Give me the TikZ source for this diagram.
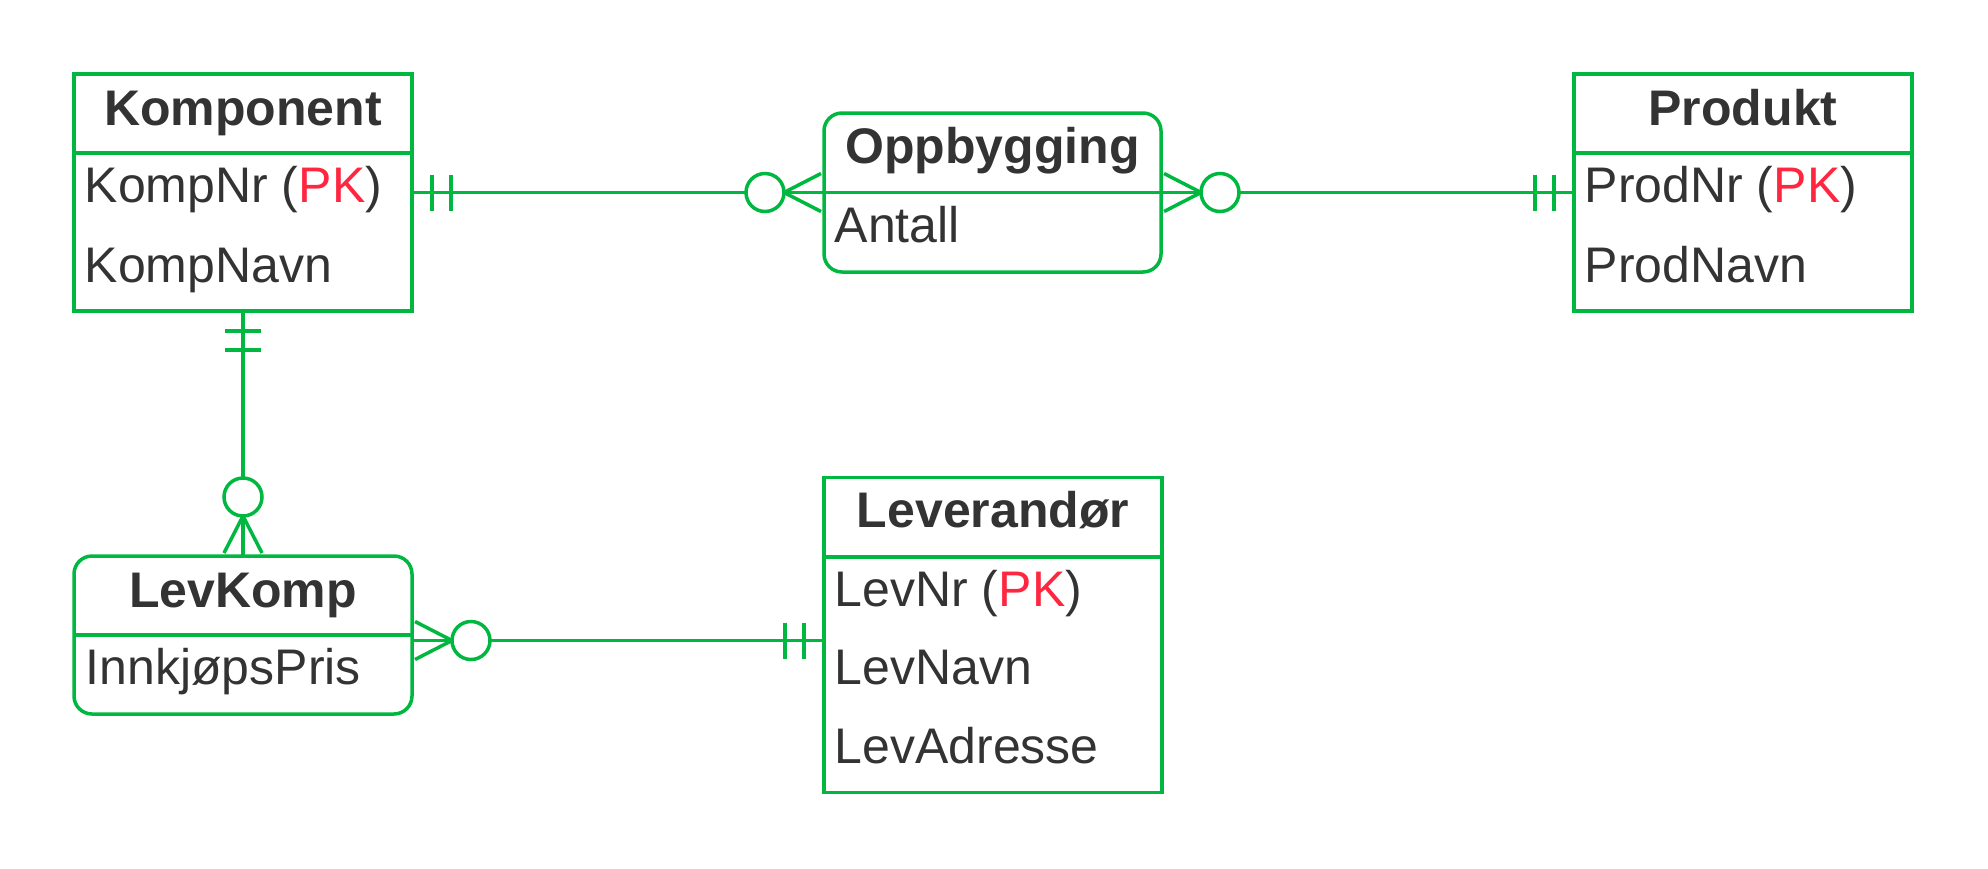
\documentclass[tikz,border=0pt]{standalone}
\usepackage{fontspec}
\setmainfont{Liberation Sans}
\definecolor{ergreen}{RGB}{0,184,64}
\definecolor{txt}{RGB}{51,51,51}
\definecolor{pkred}{RGB}{255,38,64}
\begin{document}
\begin{tikzpicture}[x=1pt,y=-1pt,line width=3.5pt,
  entity/.style={draw=ergreen,fill=white,rectangle,inner sep=0pt,outer sep=0pt},
  rentity/.style={entity,rounded corners=18pt},
  divider/.style={draw=ergreen,line width=3.5pt},
  etitle/.style={anchor=base,text=txt,font=\fontsize{50}{60}\selectfont\bfseries,inner sep=0pt},
  attr/.style={anchor=base west,text=txt,font=\fontsize{50}{60}\selectfont,inner sep=0pt},
  conn/.style={draw=ergreen,line width=3.5pt},
  zero/.style={circle,draw=ergreen,fill=white,minimum size=38pt,inner sep=0pt,outer sep=0pt,line width=3.5pt}]
\useasboundingbox (0,0) rectangle (1988,868);

% entities
\node[entity,minimum width=338pt,minimum height=237pt] (komp) at (243,192.5) {};
\node[rentity,minimum width=337pt,minimum height=159pt] (opp) at (992.5,192.5) {};
\node[entity,minimum width=338pt,minimum height=237pt] (prod) at (1743,192.5) {};
\node[rentity,minimum width=338pt,minimum height=158pt] (levk) at (243,635) {};
\node[entity,minimum width=338pt,minimum height=315pt] (lev) at (993,635) {};

% header dividers
\draw[divider] (74,153) -- (412,153);
\draw[divider] (1574,153) -- (1912,153);
\draw[divider] (824,192.5) -- (1161,192.5);
\draw[divider] (74,635) -- (412,635);
\draw[divider] (824,557) -- (1162,557);

% connector 1: Komponent -- Oppbygging
\draw[conn] (komp.east) -- (opp.west);
\foreach \d in {20,39} \draw[conn] ([xshift=\d pt]komp.east) ++(0,-18) -- ++(0,36);
\draw[conn] ([xshift=-3pt,yshift=19pt]opp.west) -- ([xshift=-40pt]opp.west) -- ([xshift=-3pt,yshift=-19pt]opp.west);
\node[zero] (z1) at ([xshift=-59pt]opp.west) {};

% connector 2: Oppbygging -- Produkt
\draw[conn] (opp.east) -- (prod.west);
\foreach \d in {20,39} \draw[conn] ([xshift=-\d pt]prod.west) ++(0,-18) -- ++(0,36);
\draw[conn] ([xshift=3pt,yshift=19pt]opp.east) -- ([xshift=40pt]opp.east) -- ([xshift=3pt,yshift=-19pt]opp.east);
\node[zero] (z2) at ([xshift=59pt]opp.east) {};

% connector 3: Komponent -- LevKomp
\draw[conn] (komp.south) -- (levk.north);
\foreach \d in {20,39} \draw[conn] ([yshift=-\d pt]komp.south) ++(-18,0) -- ++(36,0);
\draw[conn] ([xshift=-19pt,yshift=3pt]levk.north) -- ([yshift=40pt]levk.north) -- ([xshift=19pt,yshift=3pt]levk.north);
\node[zero] (z3) at ([yshift=59pt]levk.north) {};

% connector 4: LevKomp -- Leverandor
\coordinate (l4a) at ([yshift=-5.5pt]levk.east);
\coordinate (l4b) at (l4a -| lev.west);
\draw[conn] (l4a) -- (l4b);
\foreach \d in {20,39} \draw[conn] ([xshift=-\d pt]l4b) ++(0,-18) -- ++(0,36);
\draw[conn] ([xshift=3pt,yshift=19pt]l4a) -- ([xshift=40pt]l4a) -- ([xshift=3pt,yshift=-19pt]l4a);
\node[zero] (z4) at ([xshift=59pt]l4a) {};

% texts
\node[etitle] (kompT) at (243,125) {Komponent};
\node[attr] (kompA1) at (83,202) {KompNr (\textcolor{pkred}{PK})};
\node[attr] (kompA2) at (83,282) {KompNavn};

\node[etitle] (oppT) at (992.5,163) {Oppbygging};
\node[attr] (oppA1) at (833,242) {Antall};

\node[etitle] (prodT) at (1743,125) {Produkt};
\node[attr] (prodA1) at (1583,202) {ProdNr (\textcolor{pkred}{PK})};
\node[attr] (prodA2) at (1583,282) {ProdNavn};

\node[etitle] (levkT) at (243,607) {LevKomp};
\node[attr] (levkA1) at (84,684) {InnkjøpsPris};

\node[etitle] (levT) at (993,527) {Leverandør};
\node[attr] (levA1) at (833,606) {LevNr (\textcolor{pkred}{PK})};
\node[attr] (levA2) at (833,684.5) {LevNavn};
\node[attr] (levA3) at (833,763) {LevAdresse};
\end{tikzpicture}
\end{document}
